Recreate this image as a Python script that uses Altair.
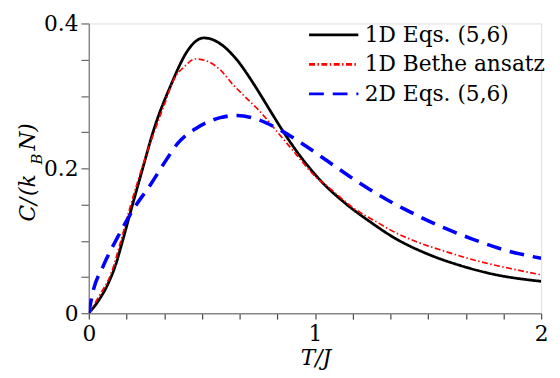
import altair as alt
import pandas as pd

series_names = ["1D Eqs. (5,6)", "1D Bethe ansatz", "2D Eqs. (5,6)"]
series_colors = ["black", "#ff0000", "#0000ff"]
series_dashes = [[1, 0], [6, 2.5, 1.5, 2.5], [15, 9]]
series_widths = [2.8, 1.7, 3.6]

T_1d = [0, 0.04, 0.087, 0.12, 0.145, 0.189, 0.232, 0.29, 0.363, 0.436, 0.475, 0.508, 0.545, 0.581, 0.654, 0.726,
        0.77, 0.813, 0.857, 0.944, 1.031, 1.133, 1.249, 1.351, 1.496, 1.641, 1.786, 2.0]
C_1d = [0, 0.016, 0.042, 0.068, 0.095, 0.145, 0.193, 0.256, 0.315, 0.362, 0.376, 0.380, 0.378, 0.372, 0.350, 0.318,
        0.296, 0.274, 0.252, 0.213, 0.181, 0.152, 0.125, 0.104, 0.082, 0.066, 0.054, 0.044]

T_ba = [0, 0.05, 0.1, 0.14, 0.183, 0.25, 0.334, 0.378, 0.421, 0.472, 0.523, 0.581, 0.639, 0.697,
        0.755, 0.842, 0.915, 0.988, 1.075, 1.162, 1.278, 1.351, 1.438, 1.569, 1.714, 1.859, 2.0]
C_ba = [0, 0.026, 0.056, 0.098, 0.147, 0.215, 0.288, 0.324, 0.340, 0.351, 0.348, 0.336, 0.315, 0.297,
        0.279, 0.247, 0.220, 0.193, 0.170, 0.147, 0.125, 0.112, 0.100, 0.086, 0.0725, 0.062, 0.053]

T_2d = [0, 0.015, 0.065, 0.131, 0.196, 0.276, 0.341, 0.392, 0.479, 0.581, 0.654, 0.741,
        0.828, 0.944, 1.06, 1.191, 1.322, 1.394, 1.569, 1.699, 1.83, 2.0]
C_2d = [0, 0.025, 0.066, 0.107, 0.143, 0.179, 0.211, 0.234, 0.256, 0.270, 0.273, 0.268,
        0.256, 0.234, 0.209, 0.181, 0.156, 0.144, 0.118, 0.102, 0.088, 0.0758]

x_ticks = [i / 6 for i in range(13)]
y_ticks = [0, 0.05, 0.1, 0.15, 0.2, 0.25, 0.3, 0.35, 0.4]

rows = []
for name, ts, cs in zip(series_names, [T_1d, T_ba, T_2d], [C_1d, C_ba, C_2d]):
    for t, c in zip(ts, cs):
        rows.append({"series": name, "T": t, "C": c})
df = pd.DataFrame(rows)

FONT = "DejaVu Serif"
FS = 22

x_enc = alt.X("T:Q", scale=alt.Scale(domain=[0, 2], nice=False),
              axis=alt.Axis(values=x_ticks, title="T/J", titleFontStyle="italic",
                            titleFontWeight="normal", titleFont=FONT, titleFontSize=FS,
                            titlePadding=3, titleX=230,
                            labelExpr="datum.value == 0 ? '0' : datum.value == 1 ? '1' : datum.value == 2 ? '2' : ''",
                            labelFont=FONT, labelFontSize=FS, labelColor="black", labelPadding=5,
                            grid=False, tickSize=6, tickColor="#444", domainColor="#888",
                            domainWidth=1.5, tickWidth=1.2, labelFlush=False))
y_enc = alt.Y("C:Q", scale=alt.Scale(domain=[0, 0.4], nice=False),
              axis=alt.Axis(values=y_ticks, title=None,
                            labelExpr="datum.value == 0 ? '0' : datum.value == 0.2 ? '0.2' : datum.value == 0.4 ? '0.4' : ''",
                            labelFont=FONT, labelFontSize=FS, labelColor="black", labelPadding=3,
                            grid=False, tickSize=8, tickColor="#666", domainColor="#888",
                            domainWidth=1.5, tickWidth=1.2, labelFlush=False))
color_enc = alt.Color("series:N", sort=series_names,
                      scale=alt.Scale(domain=series_names, range=series_colors),
                      legend=alt.Legend(title=None, orient="none", legendX=222, legendY=0,
                                        symbolType="stroke", symbolSize=2500, clipHeight=23,
                                        labelFont=FONT, labelFontSize=FS, labelColor="black",
                                        labelOffset=5, rowPadding=7, symbolStrokeWidth=2.8,
                                        labelLimit=400))
dash_enc = alt.StrokeDash("series:N", sort=series_names,
                          scale=alt.Scale(domain=series_names, range=series_dashes))

layers = []
for name, w in zip(series_names, series_widths):
    layers.append(
        alt.Chart(df).transform_filter(alt.datum.series == name)
        .mark_line(interpolate="monotone", clip=True, strokeWidth=w)
        .encode(x=x_enc, y=y_enc, color=color_enc, strokeDash=dash_enc)
    )

ylab1 = alt.Chart().mark_text(text="C/", angle=270, align="left", baseline="alphabetic",
                              font=FONT, fontSize=FS, fontStyle="italic").encode(
    x=alt.value(-55), y=alt.value(201))
ylab2 = alt.Chart().mark_text(text="(k", angle=270, align="left", baseline="alphabetic",
                              font=FONT, fontSize=FS, fontStyle="italic").encode(
    x=alt.value(-55), y=alt.value(175))
ylab3 = alt.Chart().mark_text(text="B", angle=270, align="left", baseline="alphabetic",
                              font=FONT, fontSize=15, fontStyle="italic").encode(
    x=alt.value(-48), y=alt.value(143))
ylab4 = alt.Chart().mark_text(text="N)", angle=270, align="left", baseline="alphabetic",
                              font=FONT, fontSize=FS, fontStyle="italic").encode(
    x=alt.value(-55), y=alt.value(129))

chart = alt.layer(*layers, ylab1, ylab2, ylab3, ylab4).properties(
    width=459, height=294,
    autosize=alt.AutoSizeParams(type="none"),
    padding={"left": 82, "top": 13, "right": 11, "bottom": 60},
).configure_view(stroke=None).configure(background="white")

chart.save("out.html", embed_options={"renderer": "svg", "actions": False})
